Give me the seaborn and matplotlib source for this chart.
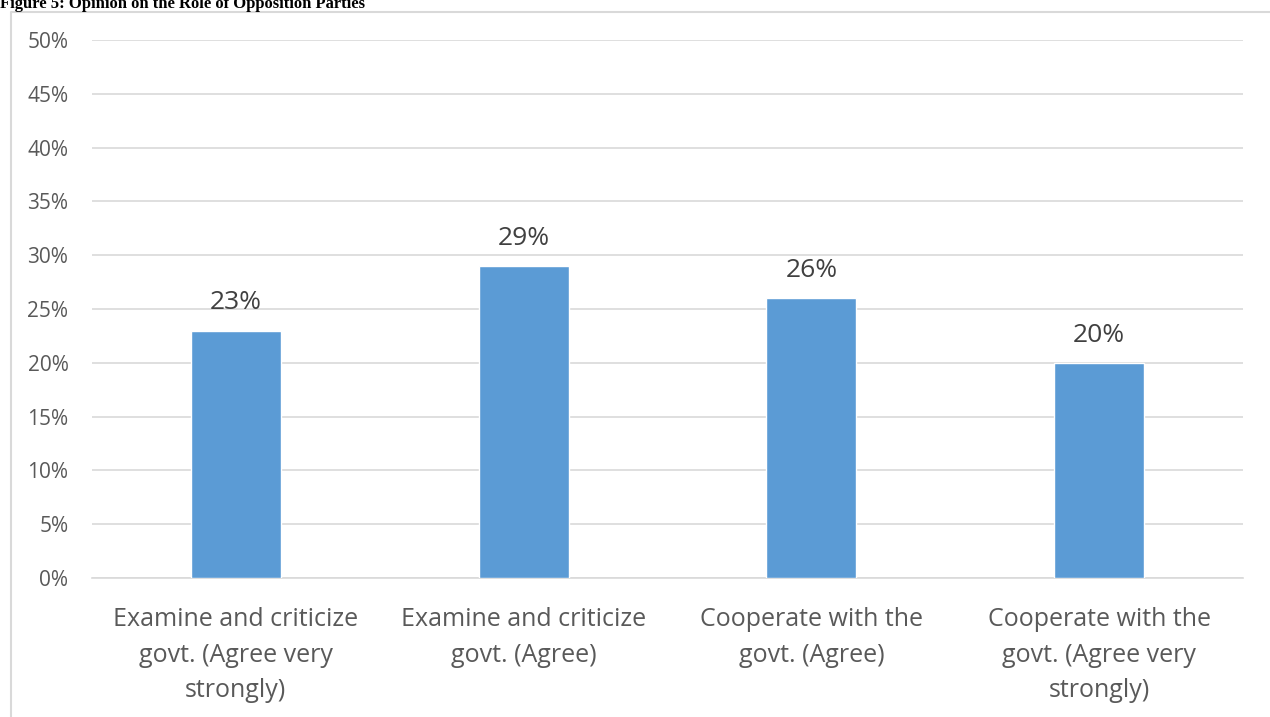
import matplotlib
matplotlib.use("Agg")
import matplotlib.pyplot as plt
import seaborn as sns
import pandas as pd
from matplotlib.lines import Line2D
from matplotlib.ticker import FuncFormatter

# data
categories = [
    "Examine and criticize\ngovt. (Agree very\nstrongly)",
    "Examine and criticize\ngovt. (Agree)",
    "Cooperate with the\ngovt. (Agree)",
    "Cooperate with the\ngovt. (Agree very\nstrongly)",
]
values = [23, 29, 26, 20]
title = "Figure 5: Opinion on the Role of Opposition Parties"

df = pd.DataFrame({"category": categories, "value": values})

sns.set_theme(style="white")
plt.rcParams["font.family"] = ["Open Sans", "DejaVu Sans"]

W, H = 1270, 717
fig = plt.figure(figsize=(W / 100, H / 100), dpi=100)
ax = fig.add_axes([92 / W, 1 - 578 / H, (1243 - 92) / W, (578 - 40) / H])

sns.barplot(data=df, x="category", y="value", color="#5B9BD5",
            width=0.3125, saturation=1, ax=ax, zorder=3)

ax.set_ylim(0, 50)
ax.set_xlim(-0.5, len(categories) - 0.5)
ax.set_yticks(range(0, 51, 5))
ax.yaxis.set_major_formatter(FuncFormatter(lambda v, p: f"{v:.0f}%"))
ax.grid(axis="y", color="#d9d9d9", linewidth=1.2, zorder=0)
ax.set_axisbelow(True)
for s in ["top", "right", "left"]:
    ax.spines[s].set_visible(False)
ax.spines["bottom"].set_color("#d9d9d9")
ax.spines["bottom"].set_linewidth(1.2)
ax.set_xlabel("")
ax.set_ylabel("")
ax.tick_params(axis="y", length=0, pad=17, labelsize=15, labelcolor="#595959")
ax.tick_params(axis="x", length=0, pad=21, labelsize=18, labelcolor="#595959")
for lab in ax.get_xticklabels():
    lab.set_linespacing(1.55)

# value labels
for c in ax.containers:
    ax.bar_label(c, labels=[f"{v}%" for v in values], padding=11,
                 fontsize=19, color="#404040")

# chart frame (left and top edges visible)
fig.add_artist(Line2D([11 / W, 11 / W, 1], [0, 1 - 12 / H, 1 - 12 / H],
                      transform=fig.transFigure, color="#d9d9d9", linewidth=1.5))

fig.text(0, 1 - 8 / H, title, fontsize=12, fontweight="bold",
         family=["Liberation Serif"], color="black", va="baseline", ha="left")

fig.savefig("out.png", dpi=100)
